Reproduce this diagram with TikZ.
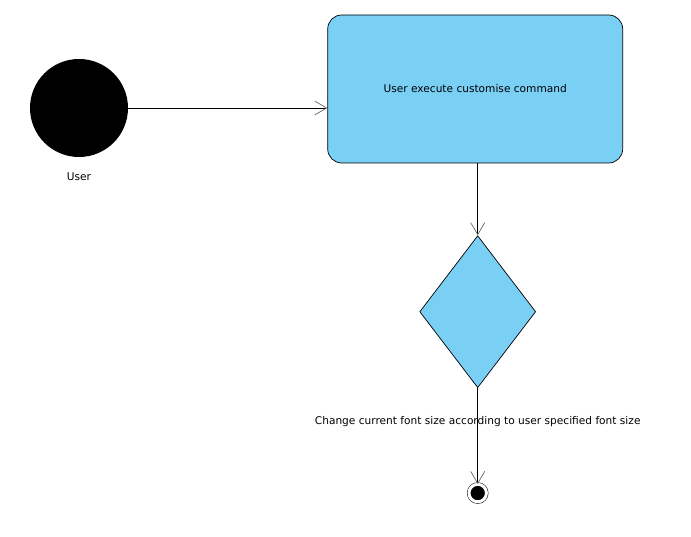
\documentclass[tikz,border=0pt]{standalone}
\usepackage{fontspec}
\setmainfont{DejaVu Sans}
\usepackage{tikz}
\usetikzlibrary{positioning}
\usetikzlibrary{shapes.geometric}
\usetikzlibrary{arrows.meta}
\definecolor{actionblue}{RGB}{122,207,245}

\begin{document}
\begin{tikzpicture}[x=1pt, y=1pt, font=\fontsize{10.6}{12}\selectfont, line width=0.7pt,
>={Straight Barb[length=12pt,width=14pt,color=black!60]},
startdot/.style = {circle, fill=black, minimum size=98pt, inner sep=0pt},
actionbox/.style = {rectangle, draw, rounded corners=14pt, fill=actionblue, minimum width=295pt, minimum height=148pt},
choice/.style = {diamond, draw, fill=actionblue, minimum width=116pt, minimum height=152pt, inner sep=0pt},
enddot/.style = {circle, draw, fill=black, double=white, double distance=3pt, line width=0.5pt, minimum size=17.5pt, inner sep=0pt}
]
\useasboundingbox (-79,108) rectangle (612,-429);

\node (user)[startdot]{};
\node (userlabel)[below=12pt of user]{User};
\node (customise)[actionbox, right=199pt of user, yshift=19pt]{User execute customise command};
\node (fontchoice)[choice, below=72pt of customise, xshift=2.5pt]{};
\node (finish)[enddot, below=96pt of fontchoice]{};

%\draw[->] (user) -- (customise);

\draw[->] (user.east) -- (user.east -| customise.west);
\draw[->] (fontchoice.north |- customise.south) -- (fontchoice.north);
\draw[->] (fontchoice.south) -- node[pos=0.35] {Change current font size according to user specified font size} (finish.north);

\end{tikzpicture}
\end{document}
